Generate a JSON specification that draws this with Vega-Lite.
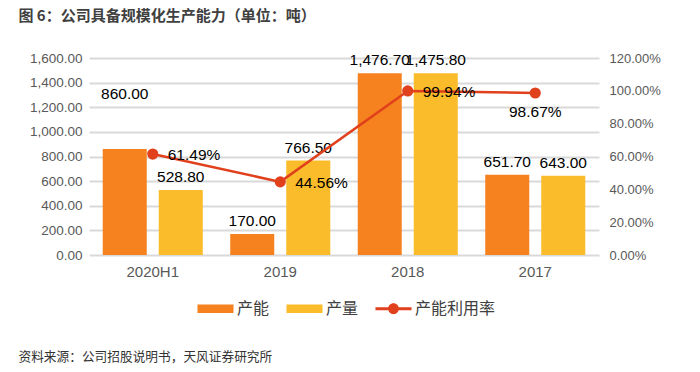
{
  "$schema": "https://vega.github.io/schema/vega-lite/v6.json",
  "padding": {"left": 18, "top": 9, "right": 5, "bottom": 8},
  "background": "white",
  "datasets": {
    "bars": [
      {"period": "2020H1", "series": "产能", "value": 860.00},
      {"period": "2020H1", "series": "产量", "value": 528.80},
      {"period": "2019", "series": "产能", "value": 170.00},
      {"period": "2019", "series": "产量", "value": 766.50},
      {"period": "2018", "series": "产能", "value": 1476.70},
      {"period": "2018", "series": "产量", "value": 1475.80},
      {"period": "2017", "series": "产能", "value": 651.70},
      {"period": "2017", "series": "产量", "value": 643.00}
    ],
    "rate": [
      {"period": "2020H1", "series": "产能利用率", "rate": 0.6149},
      {"period": "2019", "series": "产能利用率", "rate": 0.4456},
      {"period": "2018", "series": "产能利用率", "rate": 0.9994},
      {"period": "2017", "series": "产能利用率", "rate": 0.9867}
    ]
  },
  "title": {
    "text": "资料来源：公司招股说明书，天风证券研究所",
    "orient": "bottom",
    "anchor": "start",
    "frame": "bounds",
    "font": "Noto Sans CJK SC",
    "fontSize": 12.7,
    "fontWeight": "normal",
    "color": "#333333",
    "offset": 34
  },
  "vconcat": [
    {
      "title": {
        "text": "图 6：公司具备规模化生产能力（单位：吨）",
        "anchor": "start",
        "frame": "bounds",
        "font": "Noto Sans CJK SC",
        "fontSize": 15,
        "fontWeight": "bold",
        "color": "#404040",
        "offset": 27,
        "dx": -11
      },
      "width": 510,
      "height": 197,
      "encoding": {
        "x": {
          "field": "period",
          "type": "nominal",
          "sort": ["2020H1", "2019", "2018", "2017"],
          "scale": {"paddingInner": 0, "paddingOuter": 0},
          "axis": {
            "title": null,
            "labelAngle": 0,
            "labelFont": "Liberation Sans",
            "labelFontSize": 15,
            "labelColor": "#595959",
            "labelPadding": 9,
            "ticks": false,
            "domain": false,
            "grid": false
          }
        }
      },
      "layer": [
        {
          "data": {"name": "bars"},
          "encoding": {
            "xOffset": {
              "field": "series",
              "type": "nominal",
              "sort": ["产能", "产量"],
              "scale": {"paddingInner": 0.214, "paddingOuter": 0.245}
            },
            "y": {
              "field": "value",
              "type": "quantitative",
              "scale": {"domain": [0, 1600]},
              "axis": {
                "title": null,
                "values": [0, 200, 400, 600, 800, 1000, 1200, 1400, 1600],
                "format": ",.2f",
                "labelOverlap": false,
                "labelFont": "Liberation Sans",
                "labelFontSize": 13.5,
                "labelColor": "#595959",
                "labelPadding": 7,
                "ticks": false,
                "domain": false,
                "grid": true,
                "gridColor": "#d9d9d9",
                "gridWidth": 2
              }
            }
          },
          "layer": [
            {
              "mark": {"type": "bar"},
              "encoding": {
                "color": {
                  "field": "series",
                  "type": "nominal",
                  "scale": {
                    "domain": ["产能", "产量", "产能利用率"],
                    "range": ["#F5821F", "#FBBC2B", "#E0401C"]
                  },
                  "legend": {
                    "title": null,
                    "orient": "none",
                    "legendX": 108,
                    "legendY": 232,
                    "direction": "horizontal",
                    "labelFont": "Noto Sans CJK SC",
                    "labelFontSize": 16,
                    "labelColor": "#404040",
                    "labelOffset": 3,
                    "columnPadding": 16,
                    "symbolSize": 1300,
                    "encode": {
                      "symbols": {
                        "update": {
                          "shape": {"signal": "datum.value === '产能利用率' ? 'M-1,-0.08H1V0.08H-1Z M0.3,0 A0.3,0.3 0 1,1 -0.3,0 A0.3,0.3 0 1,1 0.3,0Z' : 'M-1,-0.23H1V0.23H-1Z'"},
                          "fill": {"scale": "color", "field": "value"},
                          "stroke": {"value": "transparent"},
                          "strokeWidth": {"value": 0},
                          "size": {"value": 1300},
                          "opacity": {"value": 1}
                        }
                      }
                    }
                  }
                }
              }
            },
            {
              "transform": [{"filter": "!(datum.period === '2020H1' && datum.series === '产能')"}],
              "mark": {"type": "text", "baseline": "bottom", "dy": -5, "font": "Liberation Sans", "fontSize": 15.5, "color": "#000000"},
              "encoding": {
                "text": {"field": "value", "type": "quantitative", "format": ",.2f"}
              }
            },
            {
              "transform": [{"filter": "datum.period === '2020H1' && datum.series === '产能'"}],
              "mark": {"type": "text", "baseline": "bottom", "dy": -47, "font": "Liberation Sans", "fontSize": 15.5, "color": "#000000"},
              "encoding": {
                "text": {"field": "value", "type": "quantitative", "format": ",.2f"}
              }
            }
          ]
        },
        {
          "data": {"name": "rate"},
          "encoding": {
            "y": {
              "field": "rate",
              "type": "quantitative",
              "scale": {"domain": [0, 1.2]},
              "axis": {
                "orient": "right",
                "title": null,
                "values": [0, 0.2, 0.4, 0.6, 0.8, 1.0, 1.2],
                "format": ".2%",
                "labelOverlap": false,
                "labelFont": "Liberation Sans",
                "labelFontSize": 13,
                "labelColor": "#595959",
                "labelPadding": 10,
                "ticks": false,
                "domain": false,
                "grid": false
              }
            }
          },
          "layer": [
            {
              "mark": {"type": "line", "color": "#E0401C", "strokeWidth": 2.5}
            },
            {
              "mark": {"type": "point", "filled": true, "opacity": 1, "color": "#E0401C", "size": 125}
            },
            {
              "transform": [{"filter": "datum.period !== '2017'"}],
              "mark": {"type": "text", "align": "left", "baseline": "middle", "dx": 15, "dy": 1, "font": "Liberation Sans", "fontSize": 15.5, "color": "#000000"},
              "encoding": {"text": {"field": "rate", "type": "quantitative", "format": ".2%"}}
            },
            {
              "transform": [{"filter": "datum.period === '2017'"}],
              "mark": {"type": "text", "align": "center", "baseline": "middle", "dy": 19, "font": "Liberation Sans", "fontSize": 15.5, "color": "#000000"},
              "encoding": {"text": {"field": "rate", "type": "quantitative", "format": ".2%"}}
            }
          ]
        }
      ],
      "resolve": {"scale": {"y": "independent"}}
    }
  ],
  "config": {
    "view": {"stroke": null},
    "font": "Liberation Sans"
  }
}
